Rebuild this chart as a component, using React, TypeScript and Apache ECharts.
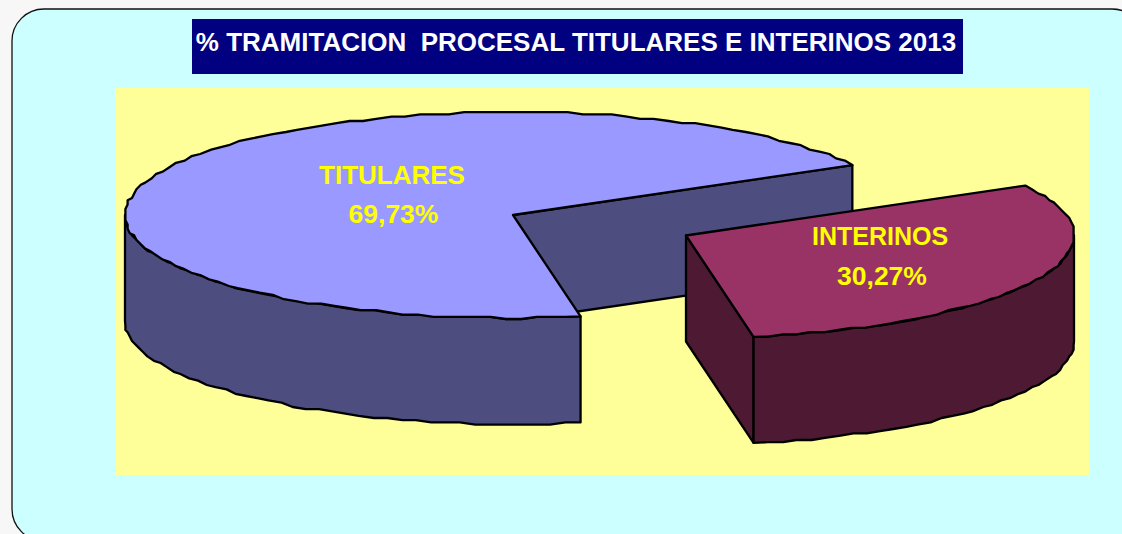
import React, { useEffect, useRef } from "react";
import * as echarts from "echarts";

const categories = ["TITULARES", "INTERINOS"];
const shares = [69.73, 30.27];
const titleText = "% TRAMITACION  PROCESAL TITULARES E INTERINOS 2013";

const topColors = ["#9999FF", "#993366"];
const wallColors = ["#4D4D80", "#4D1933"];

const RX = 388;
const RY = 103;
const DEPTH = 106;
const START = 29;
const centers = [
  [513, 215],
  [686, 235.5],
];
const labelPos = [
  [392, 175, 214],
  [880, 236, 276],
];
const nameSize = [26, 25];

const rad = (d: number) => (d * Math.PI) / 180;
const grid = 2.2;
const q = (v: number) => Math.round(v / grid) * grid;

function arc(cx: number, cy: number, from: number, to: number) {
  const pts: number[][] = [];
  const n = Math.max(2, Math.round(Math.abs(to - from) / 2.2));
  for (let i = 0; i <= n; i++) {
    const a = rad(from + ((to - from) * i) / n);
    const x = cx + RX * Math.cos(a);
    const y = cy - RY * Math.sin(a);
    pts.push(i === 0 || i === n ? [x, y] : [q(x), q(y)]);
  }
  return pts;
}

const edge = { stroke: "#000", lineWidth: 2.3, lineJoin: "round" as const };

function renderSlice(params: any, api: any) {
  const i = params.dataIndex;
  const value = api.value(0);
  const before = shares.slice(0, i).reduce((s, v) => s + v, 0);
  const from = START + before * 3.6;
  const to = from + value * 3.6;
  const [cx, cy] = centers[i];
  const top = [[cx, cy], ...arc(cx, cy, from, to)];
  const children: any[] = [];
  const poly = (points: number[][], fill: string) =>
    children.push({ type: "polygon", shape: { points }, style: { fill, ...edge } });

  const p = [cx + RX * Math.cos(rad(from)), cy - RY * Math.sin(rad(from))];
  poly(
    [
      [cx, cy],
      p,
      [p[0], p[1] + DEPTH],
      [cx, cy + DEPTH],
    ],
    wallColors[i]
  );
  const wallFrom = i === 0 ? 180 : from;
  const wallTo = i === 0 ? to : 360;
  const upper = arc(cx, cy, wallFrom, wallTo);
  const lower = arc(cx, cy + DEPTH, wallFrom, wallTo).reverse();
  poly([...upper, ...lower], wallColors[i]);
  poly(top, topColors[i]);

  const [lx, ly1, ly2] = labelPos[i];
  const font = { fill: "#FFFF00", fontFamily: "Liberation Sans", fontWeight: "bold", align: "center", verticalAlign: "middle" };
  children.push({ type: "text", style: { ...font, fontSize: nameSize[i], text: categories[i], x: lx, y: ly1 } });
  children.push({ type: "text", style: { ...font, fontSize: 26.5, text: value.toFixed(2).replace(".", ",") + "%", x: i === 0 ? lx + 1.5 : lx + 2, y: ly2 } });
  return { type: "group", children };
}

export default function App() {
  const ref = useRef<HTMLDivElement>(null);
  useEffect(() => {
    document.body.style.margin = "0";
    document.body.style.background = "#f7f7f7";
    const chart = echarts.init(ref.current!, undefined, { renderer: "svg" });
    chart.setOption({
      animation: false,
      backgroundColor: "#f7f7f7",
      title: {
        text: titleText,
        left: 571,
        top: 37,
        textAlign: "center",
        textVerticalAlign: "middle",
        textStyle: { color: "#fff", fontFamily: "Liberation Sans", fontWeight: "bold", fontSize: 26 },
      },
      graphic: [
        { type: "rect", z: 0, shape: { x: 12, y: 9, width: 1132, height: 532, r: 32 }, style: { fill: "#CCFFFF", stroke: "#111", lineWidth: 1.3 } },
        { type: "rect", z: 1, shape: { x: 192, y: 19, width: 771, height: 55 }, style: { fill: "#000080" } },
        { type: "rect", z: 1, shape: { x: 115, y: 88, width: 974, height: 387 }, style: { fill: "#FFFF99" } },
      ],
      series: [
        {
          type: "custom",
          coordinateSystem: "none",
          z: 3,
          silent: true,
          data: shares.map((v) => [v]),
          renderItem: renderSlice,
        },
      ],
    });
    return () => chart.dispose();
  }, []);
  return <div ref={ref} style={{ position: "absolute", left: 0, top: 0, width: 1122, height: 534 }} />;
}
